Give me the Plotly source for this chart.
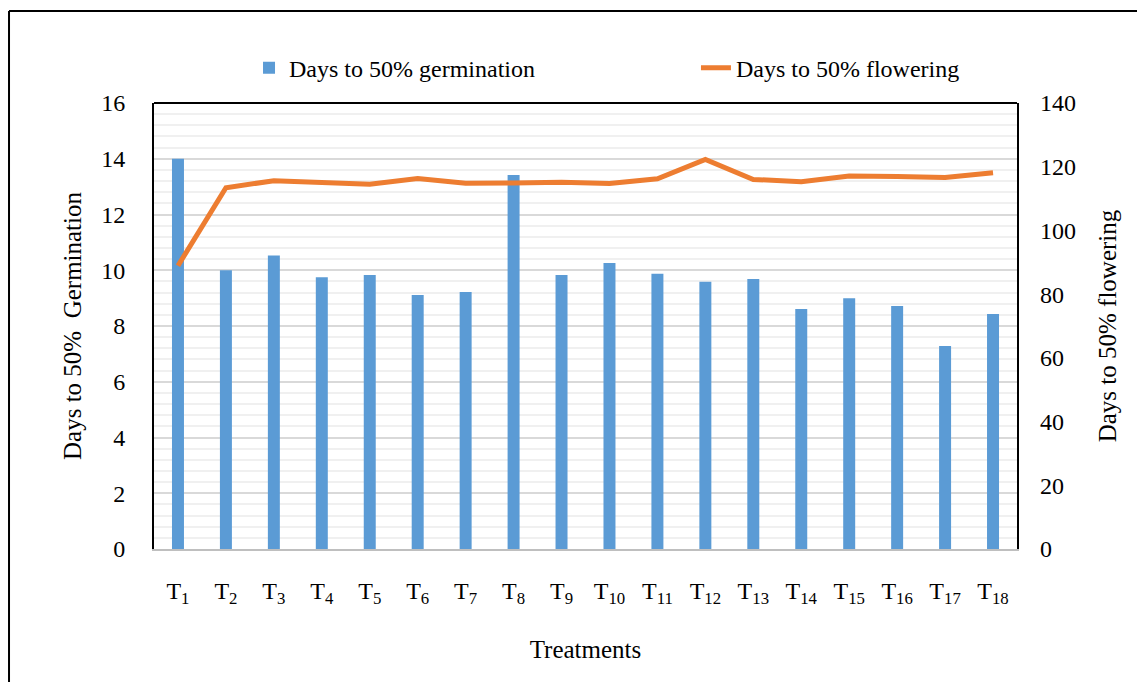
import plotly.graph_objects as go

treatments = [f"T{i}" for i in range(1, 19)]
tick_labels = [f"T<sub>{i}</sub>" for i in range(1, 19)]
germination = [14.0, 10.0, 10.53, 9.75, 9.83, 9.11, 9.22, 13.42, 9.83,
               10.26, 9.87, 9.59, 9.69, 8.61, 9.0, 8.72, 7.28, 8.43]
flowering = [88.9, 113.4, 115.6, 115.1, 114.5, 116.3, 114.8, 114.9, 115.1,
             114.7, 116.2, 122.3, 116.0, 115.3, 117.1, 116.9, 116.6, 118.1]

FONT = "Liberation Serif, Times New Roman, serif"

fig = go.Figure()
fig.add_trace(go.Bar(
    x=treatments, y=germination, name="Days to 50% germination",
    marker=dict(color="#5B9BD5", line=dict(width=0)), width=0.25, yaxis="y",
    legend="legend",
))
fig.add_trace(go.Scatter(
    x=treatments, y=flowering, name="Days to 50% flowering", mode="lines",
    line=dict(color="#ED7D31", width=5), yaxis="y2", legend="legend2",
))

legend_common = dict(orientation="h", xanchor="left", y=1.078, yanchor="middle",
                     font=dict(size=24), bgcolor="rgba(0,0,0,0)", borderwidth=0)

fig.update_layout(
    width=1145, height=682,
    margin=dict(l=146, r=136, t=95, b=141, autoexpand=False),
    paper_bgcolor="white", plot_bgcolor="white",
    font=dict(family=FONT, size=24, color="black"),
    showlegend=True,
    legend=dict(x=0.1101, **legend_common),
    legend2=dict(x=0.628, **legend_common),
    xaxis=dict(
        tickmode="array", tickvals=treatments, ticktext=tick_labels,
        showline=True, linecolor="#BFBFBF", linewidth=2,
        ticks="", ticklabelstandoff=19, showgrid=False, automargin=False,
        title=dict(text="Treatments", font=dict(size=25), standoff=34),
    ),
    yaxis=dict(
        range=[0, 16], dtick=2, tick0=0,
        showline=True, linecolor="black", linewidth=2, mirror=True,
        showgrid=True, gridcolor="#D9D9D9", gridwidth=2,
        minor=dict(dtick=0.4, showgrid=True, gridcolor="#F0F0F0", gridwidth=2),
        ticks="", ticklabelstandoff=22, zeroline=False, automargin=False,
        title=dict(text="Days to 50%  Germination", font=dict(size=25), standoff=12),
    ),
    yaxis2=dict(
        range=[0, 140], dtick=20, tick0=0, overlaying="y", side="right",
        showgrid=False, showline=False, zeroline=False, automargin=False,
        ticks="", ticklabelstandoff=22,
        title=dict(text="Days to 50% flowering", font=dict(size=25), standoff=23),
    ),
    shapes=[
        dict(type="line", xref="paper", yref="paper", x0=0, x1=1, y0=1, y1=1,
             line=dict(color="black", width=2)),
        dict(type="line", xref="paper", yref="paper", x0=-0.168, x1=1.3, y0=1.2063, y1=1.2063,
             line=dict(color="black", width=2)),
        dict(type="line", xref="paper", yref="paper", x0=-0.168, x1=-0.168, y0=-0.4, y1=1.2063,
             line=dict(color="black", width=2)),
    ],
)

fig.write_html("out.html")
